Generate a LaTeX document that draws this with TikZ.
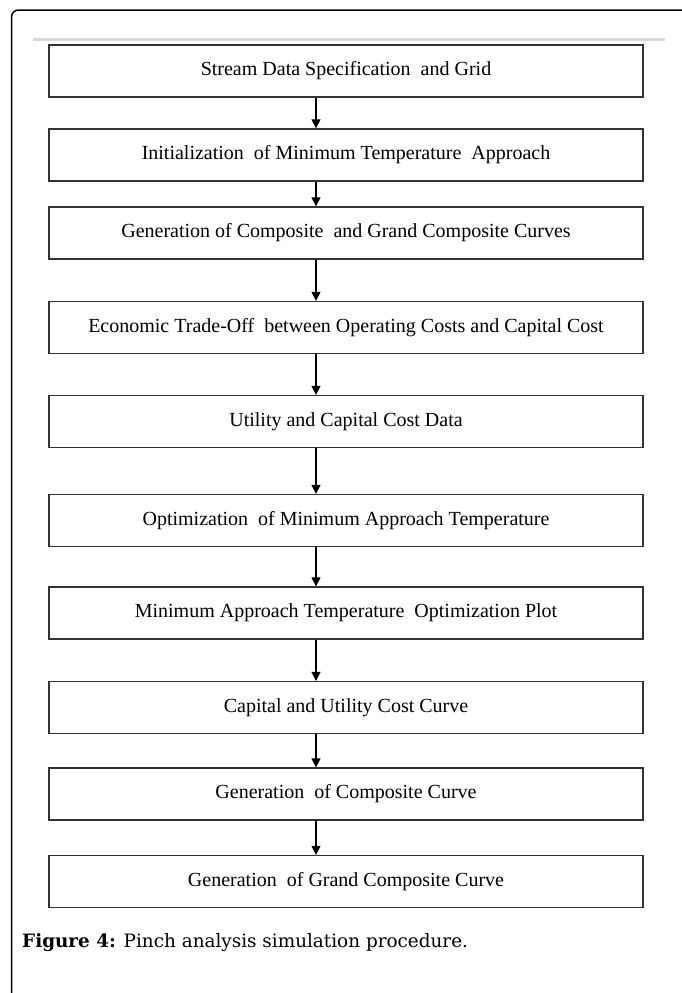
\documentclass[tikz,border=0pt]{standalone}
\usepackage{fontspec}
\setmainfont{Liberation Serif}
\newfontfamily\capfont{DejaVu Serif}
\usetikzlibrary{arrows.meta}
\begin{document}
\begin{tikzpicture}[x=1pt,y=-1pt,
  stepbox/.style={draw=black!80,line width=1.3pt,minimum width=594pt,minimum height=52pt,
    inner sep=0pt,font=\fontsize{20}{23}\selectfont,fill=white},
  flow/.style={draw=black,line width=1.2pt,-{Triangle[length=9pt,width=9pt]}}]
  \useasboundingbox (0,0) rectangle (681,993);
  % page frame, open to the right and bottom
  \draw[line width=1.5pt,rounded corners=7pt] (11.5,1000) -- (11.5,10) -- (690,10);
  % light rule above the chart
  \draw[black!15,line width=3pt] (33,39.5) -- (665,39.5);
  % procedure steps
  \node[stepbox] (b1) at (346,71) {Stream Data Specification\ \ and Grid};
  \node[stepbox] (b2) at (346,155) {Initialization\ \ of Minimum Temperature\ \ Approach};
  \node[stepbox] (b3) at (346,233) {Generation of Composite\ \ and Grand Composite Curves};
  \node[stepbox] (b4) at (346,327.5) {Economic Trade-Off\ \ between Operating Costs and Capital Cost};
  \node[stepbox] (b5) at (346,421.5) {Utility and Capital Cost Data};
  \node[stepbox] (b6) at (346,520.5) {Optimization\ \ of Minimum Approach Temperature};
  \node[stepbox] (b7) at (346,613) {Minimum Approach Temperature\ \ Optimization Plot};
  \node[stepbox] (b8) at (346,707.5) {Capital and Utility Cost Curve};
  \node[stepbox] (b9) at (346,794) {Generation\ \ of Composite Curve};
  \node[stepbox] (b10) at (346,881.5) {Generation\ \ of Grand Composite Curve};
  % arrows run along a common vertical line left of centre
  \coordinate (ax) at (316,0);
  \foreach \a/\b in {b1/b2,b2/b3,b3/b4,b4/b5,b5/b6,b6/b7,b7/b8,b8/b9,b9/b10}
    \draw[flow] (\a.south -| ax) -- (\b.north -| ax);
  % caption
  \node[anchor=west,inner sep=0pt,font=\capfont\fontsize{18.4}{22}\selectfont] (cap) at (22,943)
    {\textbf{Figure 4:} Pinch analysis simulation procedure.};
\end{tikzpicture}
\end{document}
